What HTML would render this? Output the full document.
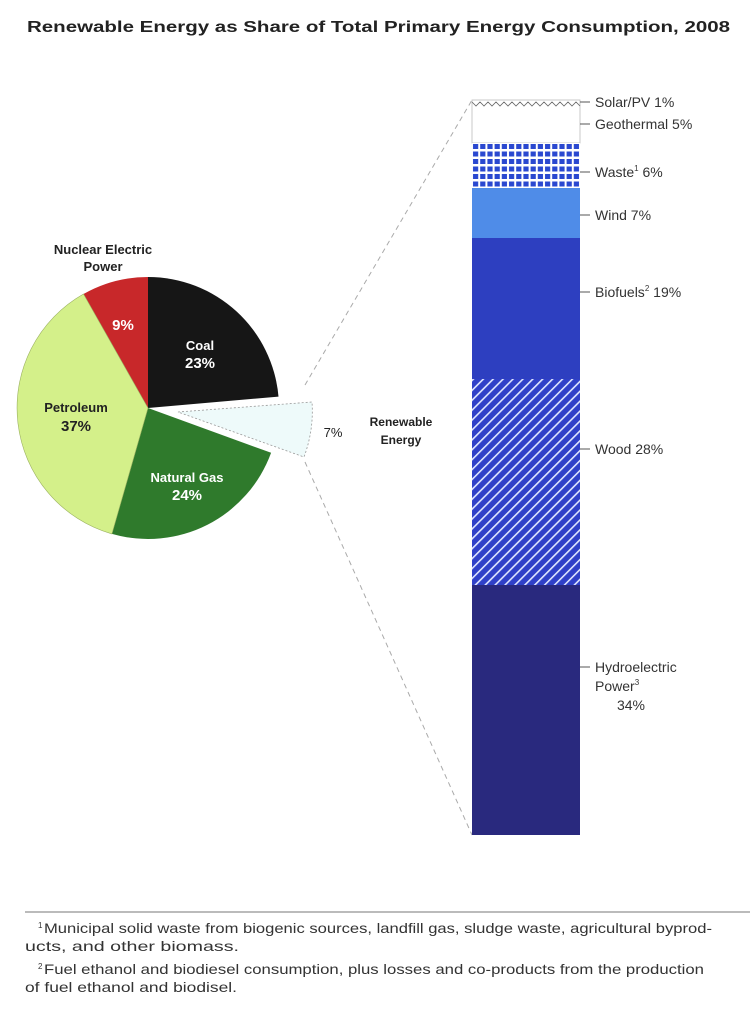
<!DOCTYPE html>
<html><head><meta charset="utf-8"><style>
html,body{margin:0;padding:0;background:#fff;}
svg{display:block;}
text{font-family:"Liberation Sans",sans-serif;}
</style></head><body>
<svg width="750" height="1019" viewBox="0 0 750 1019" xmlns="http://www.w3.org/2000/svg">
<defs>
<pattern id="grid" width="7.2" height="7.5" patternUnits="userSpaceOnUse" x="472" y="143">
<rect width="7.2" height="7.5" fill="#fff"/>
<rect x="1" y="1" width="5.2" height="5" fill="#2a48d0"/>
</pattern>
<pattern id="hatch" width="7" height="7" patternUnits="userSpaceOnUse" patternTransform="rotate(45)">
<rect width="7" height="7" fill="#2f40c8"/>
<rect x="0" y="0" width="1.6" height="7" fill="#dfe6ff"/>
</pattern>
</defs>
<text x="27" y="32" font-size="16" font-weight="bold" fill="#222" textLength="703" lengthAdjust="spacingAndGlyphs">Renewable Energy as Share of Total Primary Energy Consumption, 2008</text>

<line x1="305" y1="385" x2="472" y2="100" stroke="#aaa" stroke-width="1" stroke-dasharray="5,4"/>
<line x1="305" y1="462" x2="472" y2="835" stroke="#aaa" stroke-width="1" stroke-dasharray="5,4"/>

<path d="M148,408 L83.5,294 A131,131 0 0 1 148,277 Z" fill="#c8282a"/>
<path d="M148,408 L148,277 A131,131 0 0 1 278.5,396.6 Z" fill="#161616"/>
<path d="M148,408 L271.1,452.8 A131,131 0 0 1 111.9,533.9 Z" fill="#2f7a2c"/>
<path d="M148,408 L111.9,533.9 A131,131 0 0 1 83.5,294 Z" fill="#d4f08a" stroke="#9ab060" stroke-width="0.6"/>
<path d="M178,412 L312,402 Q314,430 304,457 Z" fill="#eefafa" stroke="#999" stroke-width="0.8" stroke-dasharray="2,2"/>

<g font-weight="bold" font-size="13" text-anchor="middle">
<text x="103" y="254" fill="#222">Nuclear Electric</text>
<text x="103" y="271" fill="#222">Power</text>
<text x="123" y="330" fill="#fff" font-size="15">9%</text>
<text x="200" y="350" fill="#fff">Coal</text>
<text x="200" y="368" fill="#fff" font-size="15">23%</text>
<text x="76" y="412" fill="#222">Petroleum</text>
<text x="76" y="431" fill="#222" font-size="15">37%</text>
<text x="187" y="482" fill="#fff">Natural Gas</text>
<text x="187" y="500" fill="#fff" font-size="15">24%</text>
<text x="401" y="426" fill="#222" font-size="12">Renewable</text>
<text x="401" y="444" fill="#222" font-size="12">Energy</text>
</g>
<text x="333" y="437" text-anchor="middle" font-size="13" fill="#222">7%</text>

<rect x="472" y="100" width="108" height="43" fill="#fff" stroke="#bbb" stroke-width="0.8"/>
<polyline points="472,102 476,106 480,102 484,106 488,102 492,106 496,102 500,106 504,102 508,106 512,102 516,106 520,102 524,106 528,102 532,106 536,102 540,106 544,102 548,106 552,102 556,106 560,102 564,106 568,102 572,106 576,102 580,106" fill="none" stroke="#666" stroke-width="0.8"/>
<rect x="472" y="143" width="108" height="45" fill="url(#grid)"/>
<rect x="472" y="188" width="108" height="50" fill="#4f8ce8"/>
<rect x="472" y="238" width="108" height="141" fill="#2d3fc0"/>
<rect x="472" y="379" width="108" height="206" fill="url(#hatch)"/>
<rect x="472" y="585" width="108" height="250" fill="#29297e"/>

<g stroke="#555" stroke-width="1">
<line x1="580" y1="102" x2="590" y2="102"/>
<line x1="580" y1="124" x2="590" y2="124"/>
<line x1="580" y1="172" x2="590" y2="172"/>
<line x1="580" y1="215" x2="590" y2="215"/>
<line x1="580" y1="292" x2="590" y2="292"/>
<line x1="580" y1="449" x2="590" y2="449"/>
<line x1="580" y1="667" x2="590" y2="667"/>
</g>
<g font-size="14" fill="#333">
<text x="595" y="107">Solar/PV 1%</text>
<text x="595" y="129">Geothermal 5%</text>
<text x="595" y="177">Waste<tspan font-size="8" dy="-6">1</tspan><tspan dy="6"> 6%</tspan></text>
<text x="595" y="220">Wind 7%</text>
<text x="595" y="297">Biofuels<tspan font-size="8" dy="-6">2</tspan><tspan dy="6"> 19%</tspan></text>
<text x="595" y="454">Wood 28%</text>
<text x="595" y="672">Hydroelectric</text>
<text x="595" y="691">Power<tspan font-size="8" dy="-6">3</tspan></text>
<text x="631" y="710" text-anchor="middle">34%</text>
</g>

<line x1="25" y1="912" x2="750" y2="912" stroke="#777" stroke-width="1"/>
<g font-size="14" fill="#333">
<text x="38" y="928" font-size="8">1</text>
<text x="44" y="933" textLength="668" lengthAdjust="spacingAndGlyphs">Municipal solid waste from biogenic sources, landfill gas, sludge waste, agricultural byprod-</text>
<text x="25" y="951" textLength="214" lengthAdjust="spacingAndGlyphs">ucts, and other biomass.</text>
<text x="38" y="969" font-size="8">2</text>
<text x="44" y="974" textLength="660" lengthAdjust="spacingAndGlyphs">Fuel ethanol and biodiesel consumption, plus losses and co-products from the production</text>
<text x="25" y="992" textLength="212" lengthAdjust="spacingAndGlyphs">of fuel ethanol and biodisel.</text>
</g>
</svg>
</body></html>
